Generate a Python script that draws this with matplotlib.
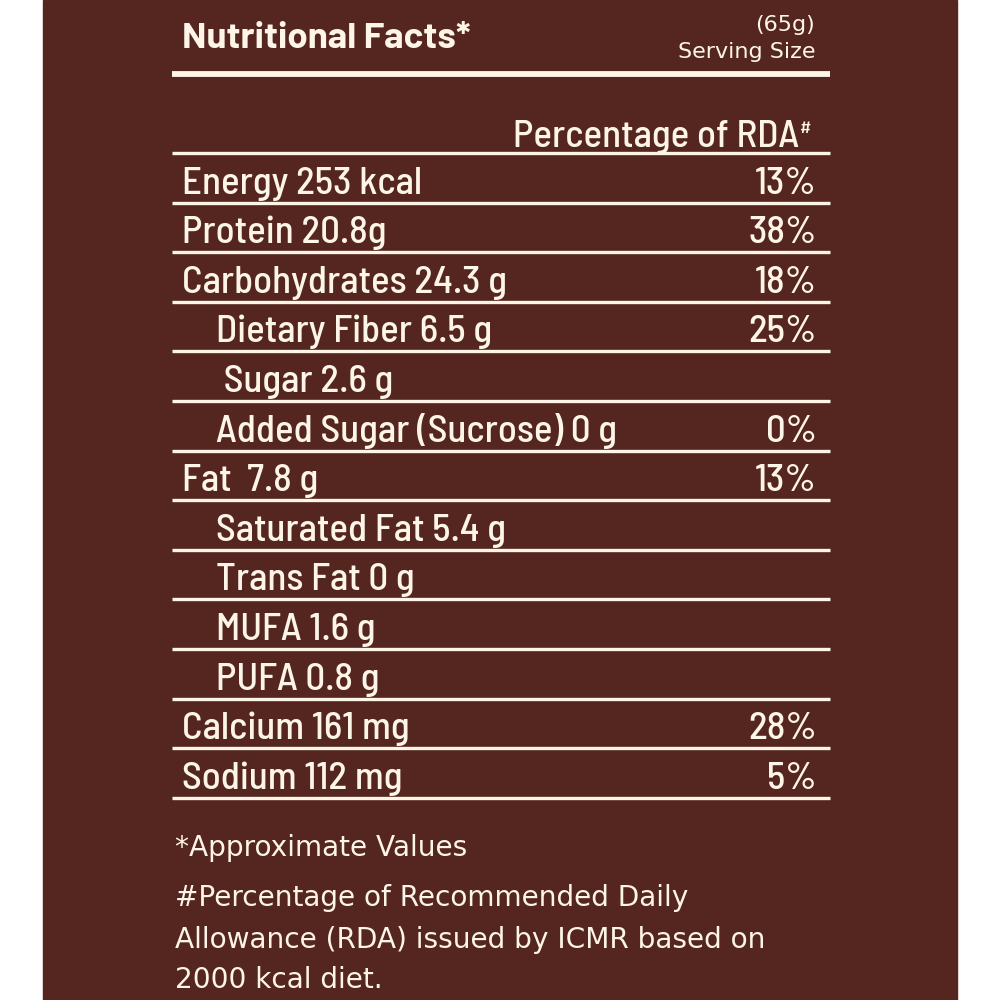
import matplotlib
matplotlib.use("Agg")
import matplotlib.pyplot as plt

# Label data
title = "Nutritional Facts*"
serving_amount = "(65g)"
serving_label = "Serving Size"
rda_header = "Percentage of RDA"

nutrients = ["Energy 253 kcal", "Protein 20.8g", "Carbohydrates 24.3 g",
             "Dietary Fiber 6.5 g", " Sugar 2.6 g", "Added Sugar (Sucrose) 0 g",
             "Fat  7.8 g", "Saturated Fat 5.4 g", "Trans Fat 0 g",
             "MUFA 1.6 g", "PUFA 0.8 g", "Calcium 161 mg", "Sodium 112 mg"]
indented = [False, False, False, True, True, True, False,
            True, True, True, True, False, False]
rda_pct = ["13%", "38%", "18%", "25%", "", "0%", "13%",
           "", "", "", "", "28%", "5%"]

footnotes = ["*Approximate Values",
             "#Percentage of Recommended Daily",
             "Allowance (RDA) issued by ICMR based on",
             "2000 kcal diet."]

bg = "#55261f"
fg = "#fdf6e8"

semi = ["Barlow Semi Condensed", "DejaVu Sans"]
reg = ["Barlow", "DejaVu Sans"]
foot = ["DejaVu Sans"]

fig = plt.figure(figsize=(10, 10), dpi=100)
fig.patch.set_facecolor("white")
ax = fig.add_axes([0, 0, 1, 1])
ax.set_xlim(0, 1000)
ax.set_ylim(1000, 0)
ax.axis("off")

# brown panel
ax.add_patch(plt.Rectangle((43, 0), 914, 1000, color=bg, zorder=0))

x0, x1 = 172, 830
ax.hlines(74, x0, x1, color=fg, lw=4.2)

ax.text(182, 48, title, color=fg, fontsize=26.5, fontweight="bold",
        va="baseline", family=reg)
ax.text(815, 31, serving_amount, color=fg, fontsize=16, ha="right",
        va="baseline", family=foot)
ax.text(815, 58, serving_label, color=fg, fontsize=16, ha="right",
        va="baseline", family=foot)

ax.text(799, 147, rda_header, color=fg, fontsize=28, ha="right",
        va="baseline", family=semi, fontweight="medium")
ax.text(800, 133, "#", color=fg, fontsize=13, ha="left", va="baseline",
        family=semi, fontweight="medium")
ax.hlines(153, x0, x1, color=fg, lw=2.4)

row_h = 49.6
first_line = 153
for i, (name, ind, pct) in enumerate(zip(nutrients, indented, rda_pct)):
    bottom = first_line + row_h * (i + 1)
    ax.text(216 if ind else 182, bottom - 9, name, color=fg, fontsize=28,
            va="baseline", family=semi, fontweight="medium")
    if pct:
        ax.text(817, bottom - 9, pct, color=fg, fontsize=28, ha="right",
                va="baseline", family=semi, fontweight="medium")
    ax.hlines(bottom, x0, x1, color=fg, lw=2.4)

foot_y = [856, 906, 948, 988]
for y, line in zip(foot_y, footnotes):
    ax.text(175, y, line, color=fg, fontsize=20.2, va="baseline", family=foot)

fig.savefig("out.png", dpi=100, facecolor=fig.get_facecolor())
